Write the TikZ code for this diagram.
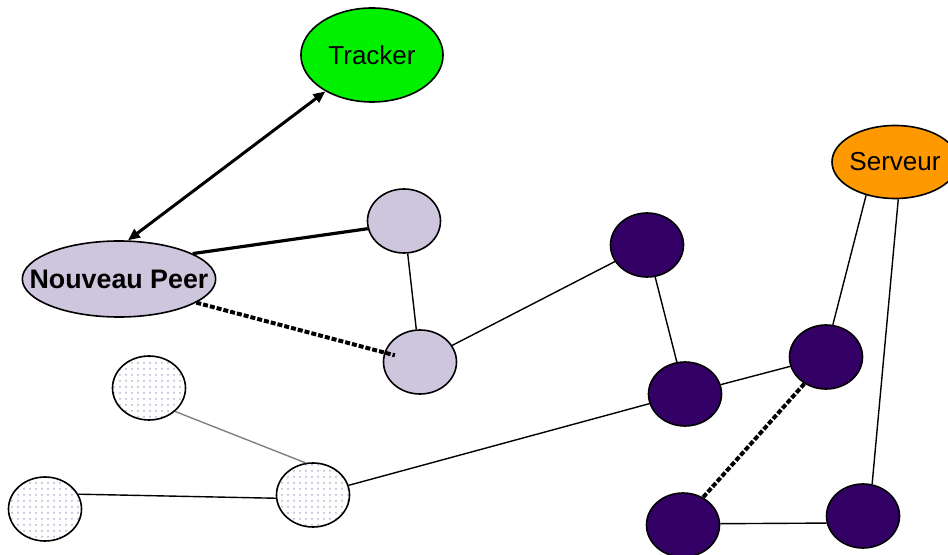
\documentclass[tikz,border=0pt]{standalone}
\usepackage{fontspec}
\setmainfont{Liberation Sans}
\usetikzlibrary{shapes.geometric,arrows.meta,patterns}

\definecolor{lavender}{HTML}{CEC6DD}
\definecolor{lavdot}{HTML}{B8AED0}
\definecolor{deeppurple}{HTML}{330066}
\definecolor{trackgreen}{HTML}{00F000}
\definecolor{servorange}{HTML}{FF9900}

\begin{document}
\begin{tikzpicture}[
      x=0.5pt, y=-0.5pt,
      every node/.style={font=\fontsize{13}{15}\selectfont},
      peer/.style={draw, ellipse, line width=0.8pt, inner sep=0pt, minimum width=36.5pt, minimum height=32pt},
      joinpeer/.style={peer, fill=lavender},
      idlepeer/.style={peer, pattern=dots, pattern color=lavdot},
      livepeer/.style={peer, fill=deeppurple},
      link/.style={line width=0.7pt},
      request/.style={line width=1.5pt, {Triangle[length=6pt,width=5pt]}-{Triangle[length=6pt,width=5pt]}},
      strong/.style={line width=1.6pt},
      pending/.style={line width=2pt, dash pattern=on 2.5pt off 1pt},
    ]
    \clip (0,0) rectangle (948,555);

    % Tracker and server
    \node[draw, ellipse, line width=0.8pt, fill=trackgreen, minimum width=66.5pt, minimum height=47pt] (tracker) at (372,55) {Tracker};
    \node[draw, ellipse, line width=0.8pt, fill=servorange, inner xsep=-2.5pt, minimum width=63pt, minimum height=36.5pt] (server) at (895,162) {Serveur};

    % Joining peer and its neighbours
    \node[joinpeer, inner xsep=-10.5pt, minimum width=96pt, minimum height=38pt, font=\fontsize{13.4}{15}\selectfont\bfseries] (newpeer) at (119,279) {Nouveau Peer};
    \node[joinpeer] (pa) at (404,221) {};
    \node[joinpeer] (pb) at (420,362) {};

    % Idle peers
    \node[idlepeer] (w1) at (149,388) {};
    \node[idlepeer] (w2) at (45,509) {};
    \node[idlepeer] (w3) at (313,495) {};

    % Active peers
    \node[livepeer] (d1) at (647,245) {};
    \node[livepeer] (d2) at (685,394) {};
    \node[livepeer] (d3) at (826,357) {};
    \node[livepeer] (d4) at (683,525) {};
    \node[livepeer] (d5) at (863,516) {};

    % Links
    \draw[request] (tracker.218) -- (newpeer.77);
    \draw[strong] (newpeer.19) -- (pa.192);
    \draw[pending, shorten >=13pt] (newpeer.343) -- (pb.center);
    \draw[link] (pa) -- (pb);
    \draw[link] (pb) -- (d1);
    \draw[link] (d1) -- (d2);
    \draw[link] (d2) -- (d3);
    \draw[link] (w3) -- (d2);
    \draw[link, gray] (w1.-42) -- (w3.103);
    \draw[link] (w2.24) -- (w3.185);
    \draw[pending] (d3.231) -- (d4.54);
    \draw[link] (d4.2) -- (d5.191);
    \draw[link] (server.229) -- (d3.78);
    \draw[link] (server.275) -- (d5.74);
  \end{tikzpicture}
\end{document}
